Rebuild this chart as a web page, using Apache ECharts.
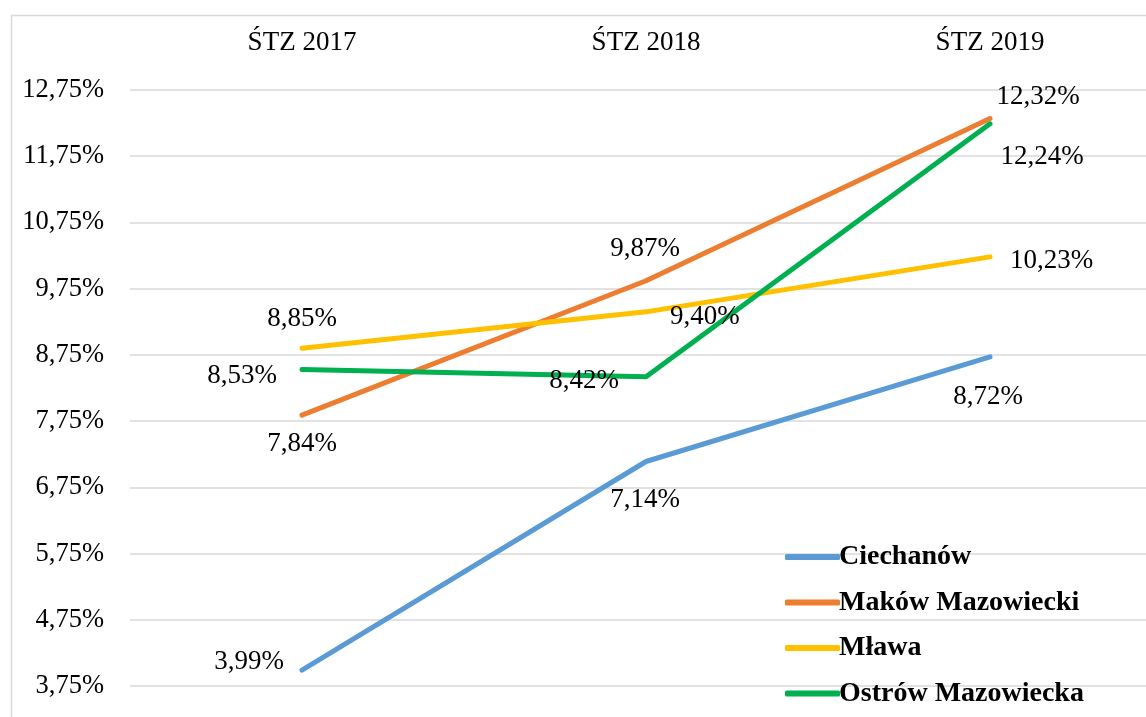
<!DOCTYPE html>
<html><head><meta charset="utf-8">
<script src="https://cdn.jsdelivr.net/npm/echarts@6/dist/echarts.min.js"></script>
<style>html,body{margin:0;padding:0;background:#fff}#c{width:1146px;height:717px}</style>
</head><body><div id="c"></div>
<script>
const categories = ['ŚTZ 2017', 'ŚTZ 2018', 'ŚTZ 2019'];
const seriesNames = ['Ciechanów', 'Maków Mazowiecki', 'Mława', 'Ostrów Mazowiecka'];
const ciechanow = [3.99, 7.14, 8.72];
const makow = [7.84, 9.87, 12.32];
const mlawa = [8.85, 9.40, 10.23];
const ostrow = [8.53, 8.42, 12.24];
const yTicks = { min: 3.75, max: 12.75, interval: 1 };

const colors = ['#5B9BD5', '#ED7D31', '#FFC000', '#00B050'];
const labelPos = [
  ['left', 'bottom', 'bottom'],
  ['bottom', 'top', 'top'],
  ['top', 'right', 'right'],
  ['left', 'left', 'bottom']
];
const labelOffset = [
  [[-10, -8], [-1, 17], [-2, 19]],
  [[0, 7], [-1, -10], [48, 0]],
  [[0, -8], [16, 5], [12, 4]],
  [[-17, 6], [-19, 4], [52, 12]]
];
const font = 'Liberation Serif, Times New Roman, serif';
function fmt(v) { return v.toFixed(2).replace('.', ',') + '%'; }

const allData = [ciechanow, makow, mlawa, ostrow];
const series = allData.map((arr, si) => ({
  name: seriesNames[si],
  type: 'line',
  symbol: 'circle',
  symbolSize: 4,
  showSymbol: true,
  lineStyle: { width: 5, color: colors[si], cap: 'round' },
  itemStyle: { color: colors[si] },
  emphasis: { disabled: true },
  data: arr.map((v, i) => ({
    value: v,
    label: {
      show: true,
      position: labelPos[si][i],
      offset: labelOffset[si][i],
      formatter: p => fmt(p.value),
      fontFamily: font, fontSize: 27, color: '#000', distance: 6
    }
  }))
}));

const chart = echarts.init(document.getElementById('c'));
chart.setOption({
  animation: false,
  graphic: [{
    type: 'rect', left: 9, top: 13, z: -10,
    shape: { width: 1200, height: 760 },
    style: { fill: 'none', stroke: '#d9d9d9', lineWidth: 1.5 }
  }],
  grid: { left: 130, top: 90, width: 1032, height: 596, containLabel: false, outerBoundsMode: 'none' },
  xAxis: {
    type: 'category', position: 'top', data: categories, boundaryGap: true,
    axisLine: { show: false }, axisTick: { show: false },
    axisLabel: { fontFamily: font, fontSize: 27, color: '#000', margin: 34 }
  },
  yAxis: {
    type: 'value', min: yTicks.min, max: yTicks.max, interval: yTicks.interval,
    axisLine: { show: false }, axisTick: { show: false },
    axisLabel: { fontFamily: font, fontSize: 26.5, color: '#000', margin: 26,
      formatter: v => fmt(v) },
    splitLine: { lineStyle: { color: '#d9d9d9', width: 1.5 } }
  },
  legend: {
    orient: 'vertical', left: 780, top: 538, itemGap: 17.5,
    itemWidth: 55, itemHeight: 6, icon: 'roundRect',
    textStyle: { fontFamily: font, fontSize: 28, fontWeight: 'bold', color: '#000', padding: [0, 0, 0, -6] },
    data: seriesNames.map((n, i) => ({ name: n, itemStyle: { color: colors[i], opacity: 1 } }))
  },
  series: series
});
</script></body></html>
